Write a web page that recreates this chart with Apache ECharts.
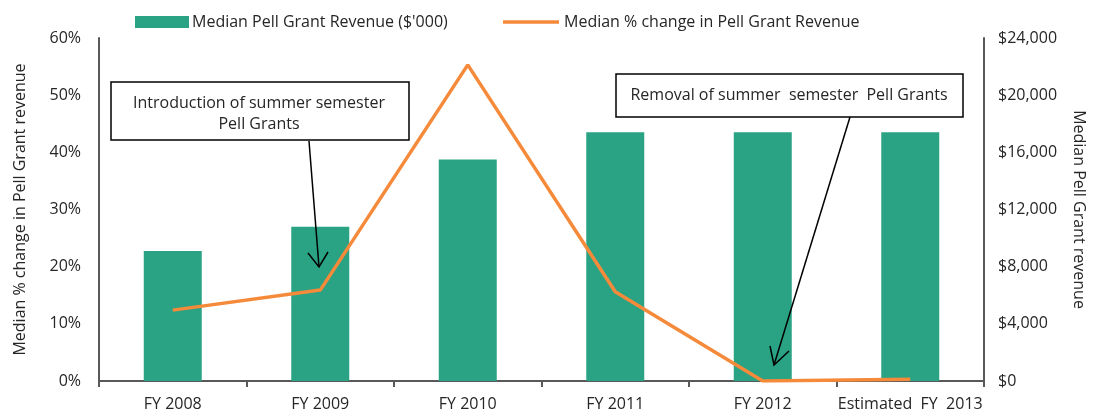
<!DOCTYPE html>
<html>
<head>
<meta charset="utf-8">
<script src="https://cdn.jsdelivr.net/npm/echarts@6/dist/echarts.min.js"></script>
<style>
html,body{margin:0;padding:0;background:#fff;}
#c{width:1102px;height:416px;}
</style>
</head>
<body>
<div id="c"></div>
<script>
var categories = ['FY 2008', 'FY 2009', 'FY 2010', 'FY 2011', 'FY 2012', 'Estimated  FY  2013'];
var revenue = [9100, 10800, 15500, 17400, 17400, 17400];
var pctChange = [12.4, 15.9, 55.3, 15.6, 0, 0.3];
var leftTicks = { min: 0, max: 60, interval: 10 };
var rightTicks = { min: 0, max: 24000, interval: 4000 };
var barName = "Median Pell Grant Revenue ($'000)";
var lineName = 'Median % change in Pell Grant Revenue';
var note1 = 'Introduction of summer semester\nPell Grants';
var note2 = 'Removal of summer  semester  Pell Grants';

var FONT = 'Open Sans';
var TXT = '#262626';
var AX = '#595959';
var GREEN = '#29A383';
var ORANGE = '#F58A3A';

// choose a font size so the legend text has the reference width (~256px)
var mctx = document.createElement('canvas').getContext('2d');
mctx.font = '100px "' + FONT + '"';
var FS = Math.round(256 / mctx.measureText(barName).width * 100 * 2) / 2;

var chart = echarts.init(document.getElementById('c'), null, { renderer: 'canvas' });
var option = {
  animation: false,
  textStyle: { fontFamily: FONT, fontSize: FS, color: TXT },
  grid: { left: 99, right: 118, top: 38, bottom: 35, containLabel: false },
  legend: [
    {
      data: [barName], left: 130, top: 9, icon: 'rect',
      itemWidth: 54, itemHeight: 12,
      textStyle: { fontFamily: FONT, fontSize: FS, color: TXT, padding: [0, 0, 0, -2] }
    },
    {
      data: [lineName], left: 498, top: 9, icon: 'rect',
      itemWidth: 56, itemHeight: 3.5,
      textStyle: { fontFamily: FONT, fontSize: FS, color: TXT }
    }
  ],
  xAxis: {
    type: 'category', data: categories, boundaryGap: true,
    axisLine: { lineStyle: { color: AX, width: 2 } },
    axisTick: { show: true, length: 6, lineStyle: { color: AX, width: 2 } },
    axisLabel: { color: TXT, fontFamily: FONT, fontSize: FS, margin: 15, interval: 0 },
    splitLine: { show: false }
  },
  yAxis: [
    {
      type: 'value', position: 'left',
      min: leftTicks.min, max: leftTicks.max, interval: leftTicks.interval,
      name: 'Median % change in Pell Grant revenue', nameLocation: 'middle', nameGap: 71,
      nameTextStyle: { color: TXT, fontFamily: FONT, fontSize: FS },
      axisLine: { show: true, lineStyle: { color: AX, width: 2 } },
      axisTick: { show: false },
      axisLabel: { color: TXT, fontFamily: FONT, fontSize: FS, margin: 18, formatter: '{value}%' },
      splitLine: { show: false }
    },
    {
      type: 'value', position: 'right',
      min: rightTicks.min, max: rightTicks.max, interval: rightTicks.interval,
      name: 'Median Pell Grant revenue', nameLocation: 'middle', nameGap: 87, nameRotate: -90,
      nameTextStyle: { color: TXT, fontFamily: FONT, fontSize: FS },
      axisLine: { show: true, lineStyle: { color: AX, width: 2 } },
      axisTick: { show: false },
      axisLabel: {
        color: TXT, fontFamily: FONT, fontSize: FS, margin: 14,
        formatter: function (v) { return '$' + v.toLocaleString('en-US'); }
      },
      splitLine: { show: false }
    }
  ],
  series: [
    {
      name: barName, type: 'bar', yAxisIndex: 1, data: revenue,
      barWidth: 58, itemStyle: { color: GREEN }
    },
    {
      name: lineName, type: 'line', yAxisIndex: 0, data: pctChange,
      symbol: 'none', lineStyle: { color: ORANGE, width: 3.5 }, itemStyle: { color: ORANGE },
      z: 3
    }
  ],
  graphic: [
    {
      type: 'rect', z: 100, shape: { x: 111, y: 82, width: 298, height: 58 },
      style: { fill: '#fff', stroke: '#000', lineWidth: 1.5 }
    },
    {
      type: 'text', z: 101, x: 259, y: 114,
      style: { text: note1, fontFamily: FONT, fontSize: FS, fill: TXT, align: 'center', verticalAlign: 'middle', lineHeight: 21 }
    },
    {
      type: 'rect', z: 100, shape: { x: 616, y: 74, width: 347, height: 43 },
      style: { fill: '#fff', stroke: '#000', lineWidth: 1.5 }
    },
    {
      type: 'text', z: 101, x: 789, y: 95,
      style: { text: note2, fontFamily: FONT, fontSize: FS, fill: TXT, align: 'center', verticalAlign: 'middle' }
    },
    {
      type: 'polyline', z: 100, shape: { points: [[309, 141], [319, 267]] },
      style: { stroke: '#000', lineWidth: 1.5, fill: null }
    },
    {
      type: 'polyline', z: 100, shape: { points: [[308, 253], [319, 267], [328, 252]] },
      style: { stroke: '#000', lineWidth: 1.5, fill: null }
    },
    {
      type: 'polyline', z: 100, shape: { points: [[850, 117], [774, 365]] },
      style: { stroke: '#000', lineWidth: 1.5, fill: null }
    },
    {
      type: 'polyline', z: 100, shape: { points: [[770, 346], [774, 365], [789, 351]] },
      style: { stroke: '#000', lineWidth: 1.5, fill: null }
    }
  ]
};
chart.setOption(option);
</script>
</body>
</html>
